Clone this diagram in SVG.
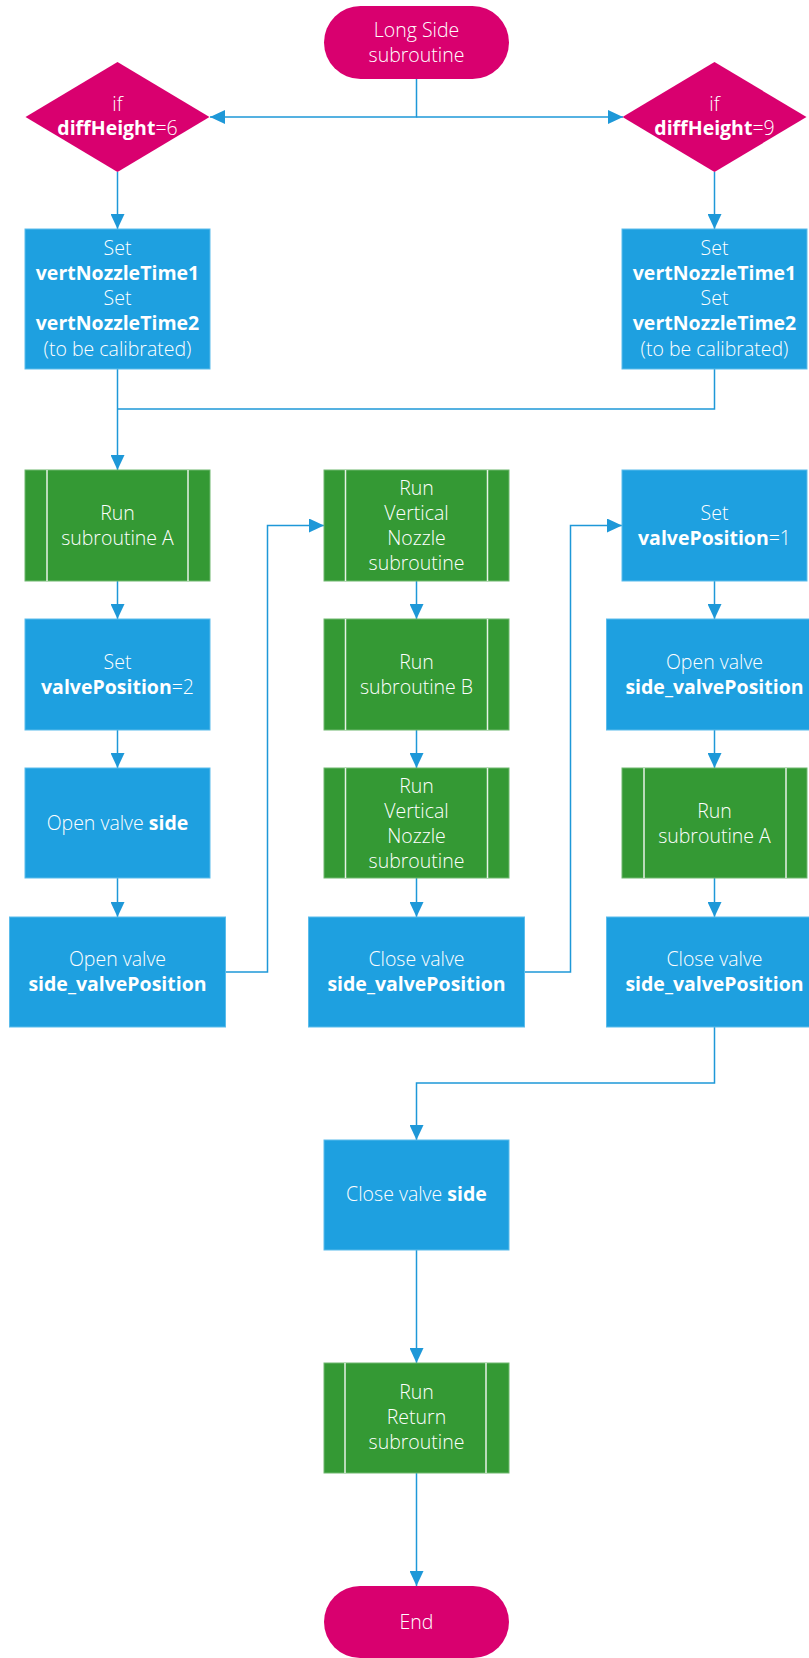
<svg xmlns="http://www.w3.org/2000/svg" width="809" height="1658" viewBox="0 0 809 1658">
<style>
.term{fill:#D9006F}
.dec{fill:#D9006F}
.proc{fill:#1EA0E0;stroke:#5BBCEB;stroke-width:1}
.sub{fill:#349934;stroke:#6FB86F;stroke-width:1}
.bar{stroke:#E6F2E6;stroke-width:1.5;fill:none}
text{font-family:"Open Sans","Noto Sans","Liberation Sans",sans-serif;font-size:19.5px;font-weight:300;fill:#FFFFFF;text-anchor:middle}
.b{font-weight:bold}
.c{fill:none;stroke:#1E98D8;stroke-width:1.5}
</style>
<defs>
<marker id="ah" markerWidth="15" markerHeight="14" refX="15" refY="7" orient="auto" markerUnits="userSpaceOnUse">
<path d="M0,0 L15,7 L0,14 Z" fill="#1E98D8"/>
</marker>
</defs>
<g id="connectors">
<path class="c" d="M416.5,79 V117 H210" marker-end="url(#ah)"/>
<path class="c" d="M416.5,117 H623" marker-end="url(#ah)"/>
<path class="c" d="M117.5,172 V229" marker-end="url(#ah)"/>
<path class="c" d="M714.5,172 V229" marker-end="url(#ah)"/>
<path class="c" d="M117.5,369 V470" marker-end="url(#ah)"/>
<path class="c" d="M714.5,369 V409 H117.5"/>
<path class="c" d="M117.5,581 V619" marker-end="url(#ah)"/>
<path class="c" d="M117.5,730 V768" marker-end="url(#ah)"/>
<path class="c" d="M117.5,878 V917" marker-end="url(#ah)"/>
<path class="c" d="M225.5,972 H267.5 V525.5 H324" marker-end="url(#ah)"/>
<path class="c" d="M416.5,581 V619" marker-end="url(#ah)"/>
<path class="c" d="M416.5,730 V768" marker-end="url(#ah)"/>
<path class="c" d="M416.5,878 V917" marker-end="url(#ah)"/>
<path class="c" d="M524.5,972 H570.5 V525.5 H622" marker-end="url(#ah)"/>
<path class="c" d="M714.5,581 V619" marker-end="url(#ah)"/>
<path class="c" d="M714.5,730 V768" marker-end="url(#ah)"/>
<path class="c" d="M714.5,878 V917" marker-end="url(#ah)"/>
<path class="c" d="M714.5,1027 V1083 H416.5 V1140" marker-end="url(#ah)"/>
<path class="c" d="M416.5,1250 V1363" marker-end="url(#ah)"/>
<path class="c" d="M416.5,1473 V1586" marker-end="url(#ah)"/>
</g>
<g id="start">
<rect class="term" x="324" y="6" width="185" height="73" rx="36.5"/>
<text x="416.5" y="37">Long Side</text>
<text x="416.5" y="62">subroutine</text>
</g>
<g id="dec6">
<polygon class="dec" points="117.5,62 209.5,117 117.5,172 25.5,117"/>
<text x="117.5" y="111">if</text>
<text x="117.5" y="135"><tspan class="b">diffHeight</tspan>=6</text>
</g>
<g id="dec9">
<polygon class="dec" points="714.5,62 806.5,117 714.5,172 622.5,117"/>
<text x="714.5" y="111">if</text>
<text x="714.5" y="135"><tspan class="b">diffHeight</tspan>=9</text>
</g>
<g id="setL">
<rect class="proc" x="25" y="229" width="185" height="140"/>
<text x="117.5" y="255">Set</text>
<text x="117.5" y="280" class="b">vertNozzleTime1</text>
<text x="117.5" y="305">Set</text>
<text x="117.5" y="330" class="b">vertNozzleTime2</text>
<text x="117.5" y="356">(to be calibrated)</text>
</g>
<g id="setR">
<rect class="proc" x="622" y="229" width="185" height="140"/>
<text x="714.5" y="255">Set</text>
<text x="714.5" y="280" class="b">vertNozzleTime1</text>
<text x="714.5" y="305">Set</text>
<text x="714.5" y="330" class="b">vertNozzleTime2</text>
<text x="714.5" y="356">(to be calibrated)</text>
</g>
<g id="runA1">
<rect class="sub" x="25" y="470" width="185" height="111"/>
<line class="bar" x1="47" y1="470" x2="47" y2="581"/>
<line class="bar" x1="188" y1="470" x2="188" y2="581"/>
<text x="117.5" y="520">Run</text>
<text x="117.5" y="545">subroutine A</text>
</g>
<g id="setVP2">
<rect class="proc" x="25" y="619" width="185" height="111"/>
<text x="117.5" y="669">Set</text>
<text x="117.5" y="694"><tspan class="b">valvePosition</tspan>=2</text>
</g>
<g id="openSide">
<rect class="proc" x="25" y="768" width="185" height="110"/>
<text x="117.5" y="830">Open valve <tspan class="b">side</tspan></text>
</g>
<g id="openSVP1">
<rect class="proc" x="9.5" y="917" width="216" height="110"/>
<text x="117.5" y="966">Open valve</text>
<text x="117.5" y="991" class="b">side_valvePosition</text>
</g>
<g id="runVN1">
<rect class="sub" x="324" y="470" width="185" height="111"/>
<line class="bar" x1="345.5" y1="470" x2="345.5" y2="581"/>
<line class="bar" x1="487.5" y1="470" x2="487.5" y2="581"/>
<text x="416.5" y="495">Run</text>
<text x="416.5" y="520">Vertical</text>
<text x="416.5" y="545">Nozzle</text>
<text x="416.5" y="570">subroutine</text>
</g>
<g id="runB">
<rect class="sub" x="324" y="619" width="185" height="111"/>
<line class="bar" x1="345.5" y1="619" x2="345.5" y2="730"/>
<line class="bar" x1="487.5" y1="619" x2="487.5" y2="730"/>
<text x="416.5" y="669">Run</text>
<text x="416.5" y="694">subroutine B</text>
</g>
<g id="runVN2">
<rect class="sub" x="324" y="768" width="185" height="110"/>
<line class="bar" x1="345.5" y1="768" x2="345.5" y2="878"/>
<line class="bar" x1="487.5" y1="768" x2="487.5" y2="878"/>
<text x="416.5" y="793">Run</text>
<text x="416.5" y="818">Vertical</text>
<text x="416.5" y="843">Nozzle</text>
<text x="416.5" y="868">subroutine</text>
</g>
<g id="closeSVP1">
<rect class="proc" x="308.5" y="917" width="216" height="110"/>
<text x="416.5" y="966">Close valve</text>
<text x="416.5" y="991" class="b">side_valvePosition</text>
</g>
<g id="setVP1">
<rect class="proc" x="622" y="470" width="185" height="111"/>
<text x="714.5" y="520">Set</text>
<text x="714.5" y="545"><tspan class="b">valvePosition</tspan>=1</text>
</g>
<g id="openSVP2">
<rect class="proc" x="606.5" y="619" width="216" height="111"/>
<text x="714.5" y="669">Open valve</text>
<text x="714.5" y="694" class="b">side_valvePosition</text>
</g>
<g id="runA2">
<rect class="sub" x="622" y="768" width="185" height="110"/>
<line class="bar" x1="644" y1="768" x2="644" y2="878"/>
<line class="bar" x1="786" y1="768" x2="786" y2="878"/>
<text x="714.5" y="818">Run</text>
<text x="714.5" y="843">subroutine A</text>
</g>
<g id="closeSVP2">
<rect class="proc" x="606.5" y="917" width="216" height="110"/>
<text x="714.5" y="966">Close valve</text>
<text x="714.5" y="991" class="b">side_valvePosition</text>
</g>
<g id="closeSide">
<rect class="proc" x="324" y="1140" width="185" height="110"/>
<text x="416.5" y="1201">Close valve <tspan class="b">side</tspan></text>
</g>
<g id="runReturn">
<rect class="sub" x="324" y="1363" width="185" height="110"/>
<line class="bar" x1="345" y1="1363" x2="345" y2="1473"/>
<line class="bar" x1="486" y1="1363" x2="486" y2="1473"/>
<text x="416.5" y="1399">Run</text>
<text x="416.5" y="1424">Return</text>
<text x="416.5" y="1449">subroutine</text>
</g>
<g id="end">
<rect class="term" x="324" y="1586" width="185" height="72" rx="36"/>
<text x="416.5" y="1629">End</text>
</g>
</svg>
